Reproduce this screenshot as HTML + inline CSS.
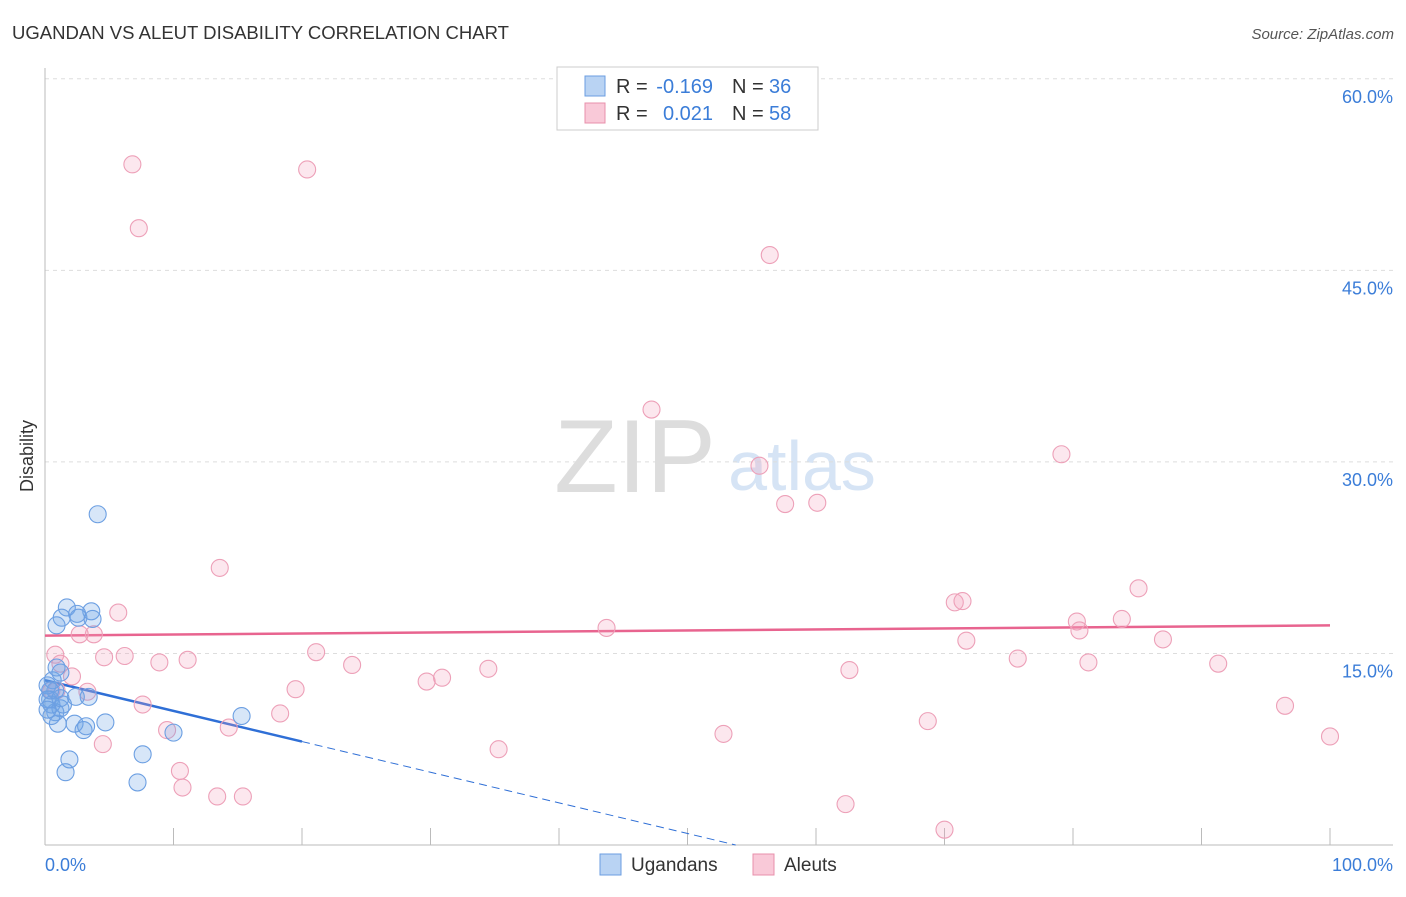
<!DOCTYPE html>
<html><head><meta charset="utf-8"><style>
body{margin:0;background:#fff;font-family:"Liberation Sans",sans-serif}
svg text{font-family:"Liberation Sans",sans-serif}
</style></head><body>
<svg id="chart" width="1406" height="892" xmlns="http://www.w3.org/2000/svg">
<text x="12" y="39" font-size="18" fill="#333" textLength="497" lengthAdjust="spacingAndGlyphs">UGANDAN VS ALEUT DISABILITY CORRELATION CHART</text>
<text x="1394" y="39" font-size="15" fill="#555" text-anchor="end" font-style="italic">Source: ZipAtlas.com</text>
<g>
<text x="635" y="492" font-size="104" fill="#ddd" font-family="Liberation Serif" text-anchor="middle">ZIP</text>
<text x="802" y="490" font-size="70" fill="#d6e4f5" text-anchor="middle">atlas</text>
</g>
<g id="grid"></g>
<line x1="45" y1="68" x2="45" y2="845" stroke="#bbb"/>
<line x1="45" y1="845" x2="1393" y2="845" stroke="#bbb"/>
<text transform="translate(33,456) rotate(-90)" font-size="18" fill="#333" text-anchor="middle">Disability</text>
<g id="lines"></g>
<g id="pts"></g>
<g>
<rect x="557" y="67" width="261" height="63" fill="#fff" stroke="#ccc"/>
<rect x="585" y="76" width="20" height="20" fill="#b9d3f3" stroke="#6b9ee0"/>
<rect x="585" y="103" width="20" height="20" fill="#f9c9d8" stroke="#e890ab"/>
<text x="616" y="93" font-size="20" fill="#333">R =</text>
<text x="713" y="93" font-size="20" fill="#3b7dd8" text-anchor="end">-0.169</text>
<text x="732" y="93" font-size="20" fill="#333">N =</text>
<text x="769" y="93" font-size="20" fill="#3b7dd8">36</text>
<text x="616" y="120" font-size="20" fill="#333">R =</text>
<text x="713" y="120" font-size="20" fill="#3b7dd8" text-anchor="end">0.021</text>
<text x="732" y="120" font-size="20" fill="#333">N =</text>
<text x="769" y="120" font-size="20" fill="#3b7dd8">58</text>
</g>
<g>
<rect x="600" y="854" width="21" height="21" fill="#b9d3f3" stroke="#6b9ee0"/>
<text x="631" y="871" font-size="19" fill="#333">Ugandans</text>
<rect x="753" y="854" width="21" height="21" fill="#f9c9d8" stroke="#e890ab"/>
<text x="784" y="871" font-size="19" fill="#333">Aleuts</text>
</g>
<text x="45" y="871" font-size="18" fill="#3b7dd8">0.0%</text>
<text x="1393" y="871" font-size="18" fill="#3b7dd8" text-anchor="end">100.0%</text>
</svg>
<script>
const yTicks=[15,30,45,60];
const yTickLabels=["15.0%","30.0%","45.0%","60.0%"];
const xTicks=[0,10,20,30,40,50,60,70,80,90,100];
const blueX=[4.1,1.7,1.3,3.6,2.6,2.5,3.7,0.9,0.6,1.2,0.8,0.4,0.8,1.2,0.5,1.0,2.3,3.0,4.7,1.9,1.6,7.6,7.2,10.0,15.3,3.4,0.2,0.9,0.2,1.4,0.5,0.2,0.4,2.4,1.2,3.2];
const blueY=[25.9,18.6,17.8,18.3,17.8,18.1,17.7,17.2,12.9,13.5,12.1,11.4,10.4,10.7,11.0,9.5,9.5,9.0,9.6,6.7,5.7,7.1,4.9,8.8,10.1,11.6,12.5,13.9,11.4,11.0,10.1,10.6,12.1,11.6,11.5,9.3];
const pinkX=[6.8,20.4,7.3,56.4,47.2,55.6,79.1,57.6,60.1,13.6,5.7,85.1,70.8,71.4,43.7,80.3,83.8,80.5,3.8,2.7,71.7,87.0,0.8,4.6,6.2,8.9,11.1,21.1,23.9,34.5,75.7,81.2,91.3,62.6,1.2,2.1,30.9,29.7,3.3,0.9,19.5,7.6,18.3,96.5,9.5,14.3,68.7,52.8,4.5,35.3,100,10.5,10.7,13.4,15.4,62.3,70.0,0.5];
const pinkY=[53.3,52.9,48.3,46.2,34.1,29.7,30.6,26.7,26.8,21.7,18.2,20.1,19.0,19.1,17.0,17.5,17.7,16.8,16.5,16.5,16.0,16.1,14.9,14.7,14.8,14.3,14.5,15.1,14.1,13.8,14.6,14.3,14.2,13.7,14.2,13.2,13.1,12.8,12.0,12.1,12.2,11.0,10.3,10.9,9.0,9.2,9.7,8.7,7.9,7.5,8.5,5.8,4.5,3.8,3.8,3.2,1.2,12.1];
const blueTrend=[12.9,-0.24];
const pinkTrend=[16.4,0.008];
const NS="http://www.w3.org/2000/svg";
const X=v=>45+v*12.85, Y=v=>845-v*12.77;
function mk(t,a,p){const e=document.createElementNS(NS,t);for(const k in a)e.setAttribute(k,a[k]);p.appendChild(e);return e;}
const grid=document.getElementById('grid');
yTicks.forEach((t,i)=>{
 const l=mk('line',{x1:45,x2:1393,y1:Y(t),y2:Y(t),stroke:'#ddd','stroke-dasharray':'4,4'},grid);
 
 
 const tx=mk('text',{x:1393,y:Y(t)+24,'font-size':18,fill:'#3b7dd8','text-anchor':'end'},grid);
 tx.textContent=yTickLabels[i];
 
 
});
xTicks.forEach(t=>{
 const l=mk('line',{x1:X(t),x2:X(t),y1:828,y2:845,stroke:'#bbb'},grid);
 
 
});
const lines=document.getElementById('lines');
let l1=mk('line',{x1:X(0),y1:Y(pinkTrend[0]),x2:X(100),y2:Y(pinkTrend[0]+pinkTrend[1]*100),stroke:'#e8648f','stroke-width':2.5},lines);


let l2=mk('line',{x1:X(0),y1:Y(blueTrend[0]),x2:X(20),y2:Y(blueTrend[0]+blueTrend[1]*20),stroke:'#2f6fd6','stroke-width':2.5},lines);


const zx=-blueTrend[0]/blueTrend[1];
let l3=mk('line',{x1:X(20),y1:Y(blueTrend[0]+blueTrend[1]*20),x2:X(zx),y2:Y(0),stroke:'#2f6fd6','stroke-width':1,'stroke-dasharray':'8,5'},lines);


const pts=document.getElementById('pts');
pinkX.forEach((v,i)=>{
 const c=mk('circle',{cx:X(v),cy:Y(pinkY[i]),r:8.5,fill:'rgba(244,160,188,0.25)',stroke:'#eda0b8','stroke-width':1.1},pts);
 
 
});
blueX.forEach((v,i)=>{
 const c=mk('circle',{cx:X(v),cy:Y(blueY[i]),r:8.5,fill:'rgba(110,165,230,0.28)',stroke:'#6c9fe2','stroke-width':1.1},pts);
 
 
});
</script>
</body></html>
